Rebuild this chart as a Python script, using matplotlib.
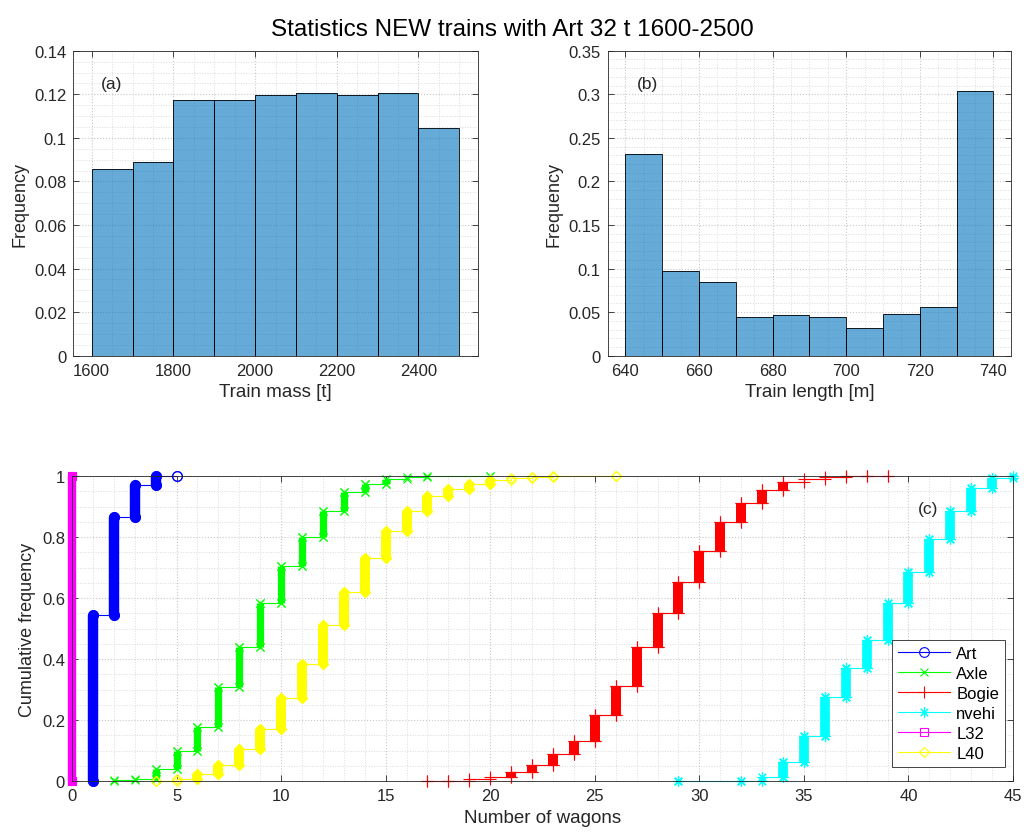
import numpy as np
import matplotlib
matplotlib.use("Agg")
import matplotlib.pyplot as plt
from matplotlib.ticker import MultipleLocator, AutoMinorLocator, FormatStrFormatter

plt.rcParams['font.family'] = ['Liberation Sans', 'DejaVu Sans']

# (a) train mass histogram
mass_edges = [1600, 1700, 1800, 1900, 2000, 2100, 2200, 2300, 2400, 2500]
mass_freq = [0.0856, 0.089, 0.1174, 0.1174, 0.1199, 0.1205, 0.1199, 0.1205, 0.1045]

# (b) train length histogram
length_edges = [640, 650, 660, 670, 680, 690, 700, 710, 720, 730, 740]
length_freq = [0.2313, 0.0971, 0.0841, 0.0447, 0.047, 0.0447, 0.0321, 0.0478, 0.0562, 0.304]

# (c) cumulative frequency vs number of wagons (value of the CDF at each observed count)
art_x = [1, 2, 3, 4, 5]
art_cdf = [0.544, 0.867, 0.971, 0.999, 1.0]
axle_x = [2, 3, 4, 5, 6, 7, 8, 9, 10, 11, 12, 13, 14, 15, 16, 17, 20]
axle_cdf = [0.002, 0.008, 0.038, 0.10, 0.178, 0.307, 0.438, 0.584, 0.706, 0.799,
            0.886, 0.946, 0.974, 0.99, 0.996, 0.999, 1.0]
bogie_x = [17, 18, 19, 20, 21, 22, 23, 24, 25, 26, 27, 28, 29, 30, 31, 32, 33, 34,
           35, 36, 37, 38, 39]
bogie_cdf = [0.0003, 0.001, 0.005, 0.012, 0.03, 0.054, 0.089, 0.132, 0.216, 0.312,
             0.438, 0.551, 0.651, 0.753, 0.85, 0.911, 0.955, 0.979, 0.99, 0.997,
             0.999, 0.9997, 1.0]
nvehi_x = [29, 32, 33, 34, 35, 36, 37, 38, 39, 40, 41, 42, 43, 44, 45]
nvehi_cdf = [0.0003, 0.001, 0.012, 0.061, 0.149, 0.277, 0.37, 0.462, 0.584, 0.684,
             0.795, 0.884, 0.96, 0.992, 1.0]
l32_x = [0]
l32_cdf = [1.0]
l40_x = [4, 5, 6, 7, 8, 9, 10, 11, 12, 13, 14, 15, 16, 17, 18, 19, 20, 21, 22, 23, 26]
l40_cdf = [0.001, 0.008, 0.024, 0.052, 0.105, 0.17, 0.272, 0.384, 0.512, 0.621,
           0.731, 0.821, 0.884, 0.935, 0.958, 0.974, 0.988, 0.995, 0.998, 0.999, 1.0]

series = [
    ("Art", art_x, art_cdf, "#0000FF", "o", 7, 7.5),
    ("Axle", axle_x, axle_cdf, "#00FF00", "x", 5.5, 5.2),
    ("Bogie", bogie_x, bogie_cdf, "#FF0000", "+", 8, 7.2),
    ("nvehi", nvehi_x, nvehi_cdf, "#00FFFF", (8, 2, 0), 7.5, 7),
    ("L32", l32_x, l32_cdf, "#FF00FF", "s", 6, 6),
    ("L40", l40_x, l40_cdf, "#FFFF00", "D", 5.5, 7.2),
]

dark = "#262626"
fig = plt.figure(figsize=(10.24, 8.37), dpi=100)


def style_axes(ax):
    for s in ax.spines.values():
        s.set_color(dark)
        s.set_linewidth(0.6)
    ax.tick_params(which="both", direction="in", top=True, right=True,
                   colors=dark, labelsize=12, width=0.6, pad=5)
    ax.tick_params(which="major", length=4)
    ax.tick_params(which="minor", length=0)
    ax.grid(True, which="major", linestyle=":", color="#c8c8c8", linewidth=0.8)
    ax.grid(True, which="minor", linestyle=":", color="#dcdcdc", linewidth=0.7)
    ax.set_axisbelow(True)
    ax.yaxis.set_major_formatter(FormatStrFormatter("%g"))


# (a)
ax1 = fig.add_axes([0.0716, 0.5738, 0.3949, 0.3644])
ax1.bar(mass_edges[:-1], mass_freq, width=np.diff(mass_edges), align="edge",
        color="#0072BD", alpha=0.6, edgecolor="none")
ax1.bar(mass_edges[:-1], mass_freq, width=np.diff(mass_edges), align="edge",
        fill=False, edgecolor="black", linewidth=0.6)
ax1.set_xlim(1555, 2545)
ax1.set_ylim(0, 0.14)
ax1.xaxis.set_major_locator(MultipleLocator(200))
ax1.xaxis.set_minor_locator(MultipleLocator(50))
ax1.yaxis.set_major_locator(MultipleLocator(0.02))
ax1.yaxis.set_minor_locator(AutoMinorLocator(4))
style_axes(ax1)
ax1.set_xlabel("Train mass [t]", fontsize=13.5, color=dark)
ax1.set_ylabel("Frequency", fontsize=13, color=dark)
ax1.text(0.068, 0.894, "(a)", transform=ax1.transAxes, fontsize=12.5, color=dark, va="center")

# (b)
ax2 = fig.add_axes([0.5935, 0.5738, 0.3938, 0.3644])
ax2.bar(length_edges[:-1], length_freq, width=np.diff(length_edges), align="edge",
        color="#0072BD", alpha=0.6, edgecolor="none")
ax2.bar(length_edges[:-1], length_freq, width=np.diff(length_edges), align="edge",
        fill=False, edgecolor="black", linewidth=0.6)
ax2.set_xlim(635.2, 744.8)
ax2.set_ylim(0, 0.35)
ax2.xaxis.set_major_locator(MultipleLocator(20))
ax2.xaxis.set_minor_locator(MultipleLocator(5))
ax2.yaxis.set_major_locator(MultipleLocator(0.05))
ax2.yaxis.set_minor_locator(MultipleLocator(0.01))
style_axes(ax2)
ax2.set_xlabel("Train length [m]", fontsize=13.5, color=dark)
ax2.set_ylabel("Frequency", fontsize=13, color=dark)
ax2.text(0.073, 0.894, "(b)", transform=ax2.transAxes, fontsize=12.5, color=dark, va="center")

# (c)
ax3 = fig.add_axes([0.0703, 0.0657, 0.919, 0.3644])
for name, xs, cdf, col, mk, ms, bw in series:
    xs = np.asarray(xs, float)
    upper = np.asarray(cdf, float)
    lower = np.concatenate([[0.0], upper[:-1]])
    px = np.repeat(xs, 2)
    py = np.column_stack([lower, upper]).ravel()
    ax3.plot(px, py, color=col, linewidth=0.8, marker=mk, markersize=ms,
             markerfacecolor="none", markeredgewidth=0.8, label=name, clip_on=False)
    big = (upper - lower) > 0.012
    if big.any():
        ax3.vlines(xs[big], lower[big], upper[big], colors=col, linewidth=bw,
                   capstyle="butt", clip_on=False)
        ends_x = np.concatenate([xs[big], xs[big]])
        ends_y = np.concatenate([lower[big], upper[big]])
        ax3.plot(ends_x, ends_y, linestyle="none", marker=mk, markersize=ms,
                 color=col, markerfacecolor=col, markeredgewidth=0.8, clip_on=False)

ax3.set_xlim(0, 45)
ax3.set_ylim(0, 1)
ax3.xaxis.set_major_locator(MultipleLocator(5))
ax3.xaxis.set_minor_locator(MultipleLocator(1))
ax3.yaxis.set_major_locator(MultipleLocator(0.2))
ax3.yaxis.set_minor_locator(MultipleLocator(0.05))
style_axes(ax3)
ax3.set_xlabel("Number of wagons", fontsize=13.5, color=dark)
ax3.set_ylabel("Cumulative frequency", fontsize=13, color=dark)
ax3.text(0.899, 0.892, "(c)", transform=ax3.transAxes, fontsize=12.5, color=dark, va="center")
leg = ax3.legend(loc="lower right", bbox_to_anchor=(0.9915, 0.046), borderaxespad=0,
                 fontsize=12, numpoints=1, handlelength=3.1, handletextpad=0.4,
                 labelspacing=0.3, borderpad=0.35, fancybox=False, framealpha=1,
                 edgecolor=dark)
leg.get_frame().set_linewidth(0.6)

fig.suptitle("Statistics NEW trains with Art 32 t 1600-2500", fontsize=17.5, y=0.977,
             color="black")

fig.savefig("out.png", dpi=100)
